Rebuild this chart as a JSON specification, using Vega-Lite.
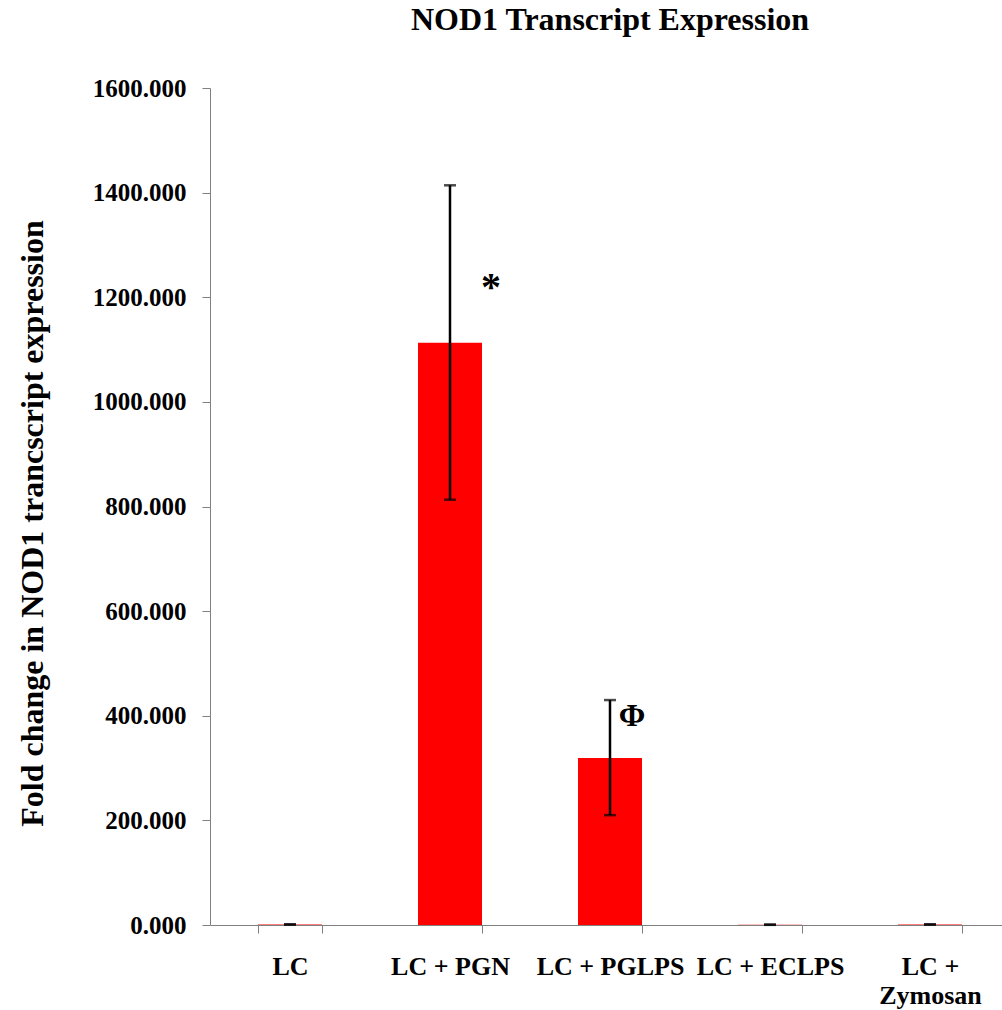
{
  "$schema": "https://vega.github.io/schema/vega-lite/v6.json",
  "autosize": "none",
  "width": 800,
  "height": 837,
  "padding": {"left": 210, "top": 88, "right": 0, "bottom": 85},
  "background": "white",
  "config": {
    "view": {"stroke": null},
    "font": "Liberation Serif",
    "axis": {"grid": false, "domainColor": "#808080", "tickColor": "#808080", "labelColor": "black", "titleColor": "black", "labelFont": "Liberation Serif", "titleFont": "Liberation Serif", "labelFontWeight": "bold", "titleFontWeight": "bold"}
  },
  "title": {"text": "NOD1 Transcript Expression", "fontSize": 32, "font": "Liberation Serif", "fontWeight": "bold", "anchor": "middle", "color": "black", "offset": 39},
  "data": {"values": [
    {"group": "LC", "mean": 1.0, "lo": 0.6, "hi": 1.4, "annot": "", "annot_y": null},
    {"group": "LC + PGN", "mean": 1113, "lo": 813, "hi": 1414, "annot": "*", "annot_y": 1233},
    {"group": "LC + PGLPS", "mean": 319, "lo": 210, "hi": 430, "annot": "Φ", "annot_y": 400},
    {"group": "LC + ECLPS", "mean": 0.6, "lo": 0.3, "hi": 0.9, "annot": "", "annot_y": null},
    {"group": "LC + Zymosan", "mean": 1.0, "lo": 0.6, "hi": 1.4, "annot": "", "annot_y": null}
  ]},
  "encoding": {
    "x": {"field": "group", "type": "nominal", "sort": null,
      "scale": {"paddingInner": 0.6, "paddingOuter": 0.3},
      "axis": {"title": null, "labelAngle": 0, "labelFontSize": 26, "labelPadding": 20, "tickSize": 8, "tickBand": "extent", "labelBaseline": "top", "labelLineHeight": 29,
        "labelExpr": "datum.value == 'LC + Zymosan' ? ['LC +', 'Zymosan'] : datum.value"}}
  },
  "layer": [
    {
      "mark": {"type": "bar", "color": "#FF0000"},
      "encoding": {
        "y": {"field": "mean", "type": "quantitative",
          "scale": {"domain": [0, 1600], "nice": false},
          "axis": {"title": "Fold change in NOD1 trancscript expression", "values": [0, 200, 400, 600, 800, 1000, 1200, 1400, 1600], "format": ".3f", "labelFontSize": 25, "labelPadding": 16, "tickSize": 8, "titleFontSize": 32, "titleX": -178, "titleY": 435, "titleBaseline": "middle", "titleAngle": -90}}
      }
    },
    {
      "mark": {"type": "rule", "color": "black", "strokeWidth": 2.5},
      "encoding": {
        "y": {"field": "lo", "type": "quantitative"},
        "y2": {"field": "hi"}
      }
    },
    {
      "mark": {"type": "tick", "color": "black", "orient": "horizontal", "size": 12, "thickness": 2.5},
      "encoding": {"y": {"field": "hi", "type": "quantitative"}}
    },
    {
      "mark": {"type": "tick", "color": "black", "orient": "horizontal", "size": 12, "thickness": 2.5},
      "encoding": {"y": {"field": "lo", "type": "quantitative"}}
    },
    {
      "transform": [{"filter": "datum.annot == '*'"}],
      "mark": {"type": "text", "fontWeight": "bold", "fontSize": 40, "dx": 41, "dy": 8, "baseline": "middle", "color": "black"},
      "encoding": {
        "y": {"field": "annot_y", "type": "quantitative"},
        "text": {"field": "annot"}
      }
    },
    {
      "transform": [{"filter": "datum.annot == 'Φ'"}],
      "mark": {"type": "text", "fontWeight": "bold", "fontSize": 32, "dx": 22, "baseline": "middle", "color": "black"},
      "encoding": {
        "y": {"field": "annot_y", "type": "quantitative"},
        "text": {"field": "annot"}
      }
    }
  ]
}
